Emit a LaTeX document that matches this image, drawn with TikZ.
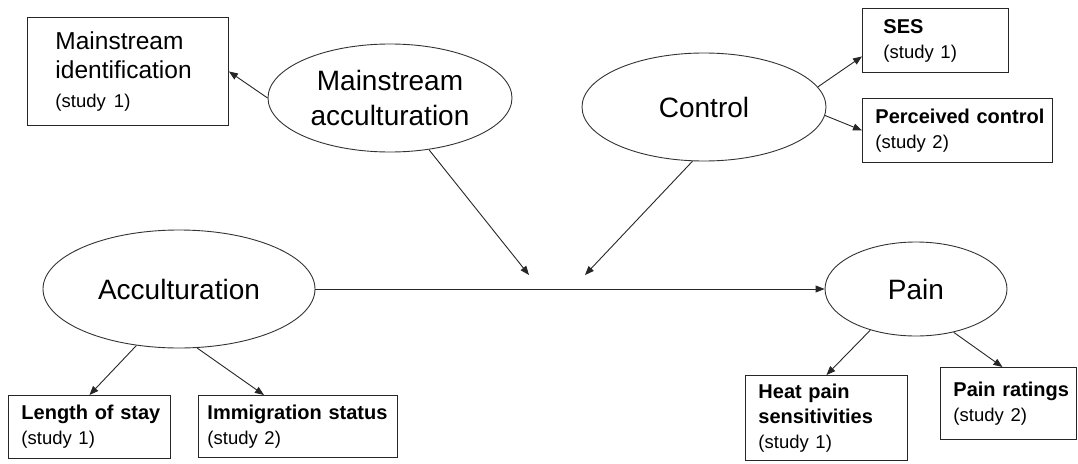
\documentclass[tikz,border=0pt]{standalone}
\usepackage{fontspec}
\setmainfont{Liberation Sans}
\usetikzlibrary{shapes.geometric,arrows.meta}
\newcommand{\stdy}[1]{{\mdseries\fontsize{18.5}{25}\selectfont\mbox{#1}}}
\newcommand{\oneline}[1]{\mbox{#1}}
\begin{document}
\begin{tikzpicture}[x=1pt,y=-1pt,
  lat/.style={draw=black!80, line width=0.9pt, ellipse, inner sep=0pt, align=center,
    font=\fontsize{28}{35}\selectfont},
  obs/.style={draw=black!85, line width=0.9pt, rectangle, anchor=north west, inner ysep=0pt,
    align=left, font=\bfseries\fontsize{20}{25}\selectfont},
  arr/.style={draw=black!85, line width=0.9pt, -{Triangle[length=9pt,width=7pt]}}]
\useasboundingbox (0,0) rectangle (1078,463);
% latent variables
\node[lat, minimum width=244pt, minimum height=108pt] (macc) at (390,98) {Mainstream\\acculturation};
\node[lat, minimum width=244pt, minimum height=108pt] (ctrl) at (704,107) {Control};
\node[lat, minimum width=272pt, minimum height=118pt] (acc) at (179,289) {Acculturation};
\node[lat, minimum width=182pt, minimum height=94pt] (pain) at (916,289) {Pain};
% indicators
\node[obs, font=\mdseries\fontsize{24.5}{29}\selectfont, inner xsep=28pt, text width=145pt, minimum height=108pt] (mid) at (27,17)
  {\oneline{Mainstream}\\\oneline{identification}\\\stdy{(study 1)}};
\node[obs, inner xsep=21pt, text width=104pt, minimum height=64pt] (ses) at (862,8)
  {\oneline{SES}\\\stdy{(study 1)}};
\node[obs, inner xsep=13pt, text width=164pt, minimum height=64pt] (pc) at (862,98)
  {\oneline{Perceived control}\\\stdy{(study 2)}};
\node[obs, inner xsep=13pt, text width=136pt, minimum height=63pt] (los) at (8,395)
  {\oneline{Length of stay}\\\stdy{(study 1)}};
\node[obs, inner xsep=9pt, text width=181pt, minimum height=62pt] (imm) at (198,395)
  {\oneline{Immigration status}\\\stdy{(study 2)}};
\node[obs, inner xsep=13pt, text width=136pt, minimum height=85pt] (heat) at (745,375)
  {\oneline{Heat pain}\\\oneline{sensitivities}\\\stdy{(study 1)}};
\node[obs, inner xsep=13pt, text width=110pt, minimum height=72pt] (pr) at (940,367)
  {\oneline{Pain ratings}\\\stdy{(study 2)}};
% connectors
\coordinate (m1) at (529,275);
\coordinate (m2) at (585,275);
\draw[arr] (macc.west) -- (mid.east);
\draw[arr] (ctrl.10) -- ([yshift=-16pt]ses.west);
\draw[arr] (ctrl.-4) -- (pc.west);
\draw[arr] (macc.-53) -- (m1);
\draw[arr] (ctrl.-102) -- (m2);
\draw[arr] (acc.east) -- (pain.west);
\draw[arr] (acc.-127) -- (los.north);
\draw[arr] (acc.-73) -- ([xshift=-34pt]imm.north);
\draw[arr] (pain.-138) -- (heat.north);
\draw[arr] (pain.-49) -- ([xshift=-6pt]pr.north);
\end{tikzpicture}
\end{document}
